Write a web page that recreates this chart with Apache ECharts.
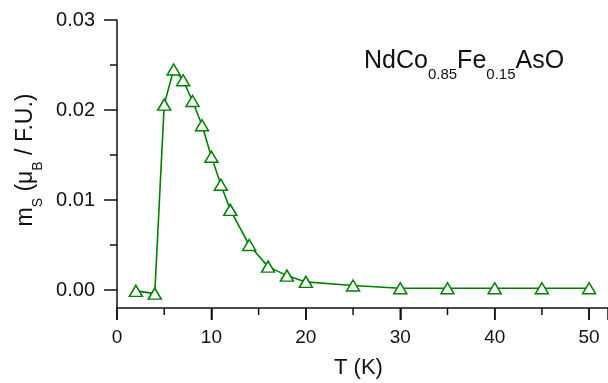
<!DOCTYPE html>
<html>
<head>
<meta charset="utf-8">
<script src="https://cdn.jsdelivr.net/npm/echarts@6/dist/echarts.min.js"></script>
<style>
  html, body { margin: 0; padding: 0; background: #fff; }
  #chart { width: 608px; height: 383px; }
</style>
</head>
<body>
<div id="chart"></div>
<script>
// temperature (K) and saturated moment (muB / F.U.)
const temps = [2, 4, 5, 6, 7, 8, 9, 10, 11, 12, 14, 16, 18, 20, 25, 30, 35, 40, 45, 50];
const moments = [-0.0001, -0.0004, 0.0206, 0.0245, 0.0233, 0.0210, 0.0183, 0.0148, 0.0117, 0.0089,
  0.0050, 0.0026, 0.0016, 0.0009, 0.0005, 0.0002, 0.0002, 0.0002, 0.0002, 0.0002];
const xMajor = [0, 10, 20, 30, 40, 50];
const xMinor = [5, 15, 25, 35, 45];
const yMajor = [0, 0.01, 0.02, 0.03];
const yMinor = [0.005, 0.015, 0.025];

const FONT = 'Liberation Sans, Arial, sans-serif';
const INK = '#111';
const GREEN = '#008000';
const Y_MIN = -0.002;
const Y_MAX = 0.03;
const GRID = { left: 117, right: 0, top: 20, bottom: 75, outerBoundsMode: 'none' };

const chart = echarts.init(document.getElementById('chart'));

// x ticks drawn through the x scale, pointing down from the axis line
const xTicks = xMajor.concat(xMinor);
function renderTick(params, api) {
  const v = api.value(0);
  const p = api.coord([v, Y_MIN]);
  const len = xMajor.indexOf(v) >= 0 ? 12 : 7;
  return {
    type: 'line',
    shape: { x1: p[0], y1: p[1], x2: p[0], y2: p[1] + len },
    style: { stroke: INK, lineWidth: 1.5 },
  };
}

const option = {
  animation: false,
  grid: [GRID, { ...GRID }],
  title: {
    text: '{m|NdCo}{s|0.85}{m|Fe}{s|0.15}{m|AsO}',
    left: 359,
    top: 44,
    textStyle: {
      rich: {
        m: { fontFamily: FONT, fontSize: 25, fontWeight: 'normal', color: INK, verticalAlign: 'top' },
        s: { fontFamily: FONT, fontSize: 15, fontWeight: 'normal', color: INK, verticalAlign: 'top', padding: [18, 0, 0, 0] },
      },
    },
  },
  graphic: [
    {
      type: 'text',
      left: 334,
      top: 357,
      style: { text: 'T (K)', fontFamily: FONT, fontSize: 22, fill: INK },
    },
  ],
  xAxis: [
    {
      type: 'value',
      gridIndex: 0,
      z: 50,
      min: 0,
      max: 52,
      interval: 10,
      axisLine: { show: true, onZero: false, lineStyle: { color: INK, width: 1.5 } },
      axisTick: { show: true, length: 12, lineStyle: { color: INK, width: 1.5 } },
      splitLine: { show: false },
      axisLabel: {
        margin: 20,
        fontFamily: FONT,
        fontSize: 19,
        color: INK,
        formatter: (v) => (v > 50 ? '' : String(v)),
      },
    },
    { type: 'value', gridIndex: 1, min: 0, max: 52, show: false, splitLine: { show: false } },
  ],
  yAxis: [
    {
      type: 'value',
      gridIndex: 0,
      min: Y_MIN,
      max: Y_MAX,
      axisLine: { show: true, onZero: false, lineStyle: { color: INK, width: 1.5 } },
      splitLine: { show: false },
      name: '{m|m}{s|S}{m| (μ}{s|B}{m| / F.U.)}',
      nameLocation: 'middle',
      nameGap: 72,
      nameTextStyle: {
        padding: [0, 0, 0, 8],
        rich: {
          m: { fontFamily: FONT, fontSize: 23, color: INK, verticalAlign: 'top' },
          s: { fontFamily: FONT, fontSize: 14, color: INK, verticalAlign: 'top', padding: [17, 0, 0, 0] },
        },
      },
      axisTick: { show: true, customValues: yMajor, length: 13, lineStyle: { color: INK, width: 1.5 } },
      axisLabel: {
        customValues: yMajor,
        margin: 22,
        fontFamily: FONT,
        fontSize: 20,
        color: INK,
        formatter: (v) => v.toFixed(2),
      },
    },
    {
      // minor ticks of the y axis
      type: 'value',
      gridIndex: 1,
      min: Y_MIN,
      max: Y_MAX,
      axisLine: { show: false, onZero: false },
      splitLine: { show: false },
      axisLabel: { show: false },
      axisTick: { show: true, customValues: yMinor, length: 7, lineStyle: { color: INK, width: 1.5 } },
    },
  ],
  series: [
    {
      type: 'line',
      xAxisIndex: 0,
      yAxisIndex: 0,
      data: temps.map((t, i) => [t, moments[i]]),
      symbol: 'triangle',
      symbolSize: [13, 11],
      showAllSymbol: true,
      lineStyle: { color: GREEN, width: 1.6 },
      itemStyle: { color: '#fff', borderColor: GREEN, borderWidth: 1.5 },
    },
    {
      type: 'custom',
      xAxisIndex: 0,
      yAxisIndex: 0,
      z: 100,
      silent: true,
      clip: false,
      data: xTicks.map((v) => [v, Y_MIN]),
      renderItem: renderTick,
    },
  ],
};

chart.setOption(option);
</script>
</body>
</html>
